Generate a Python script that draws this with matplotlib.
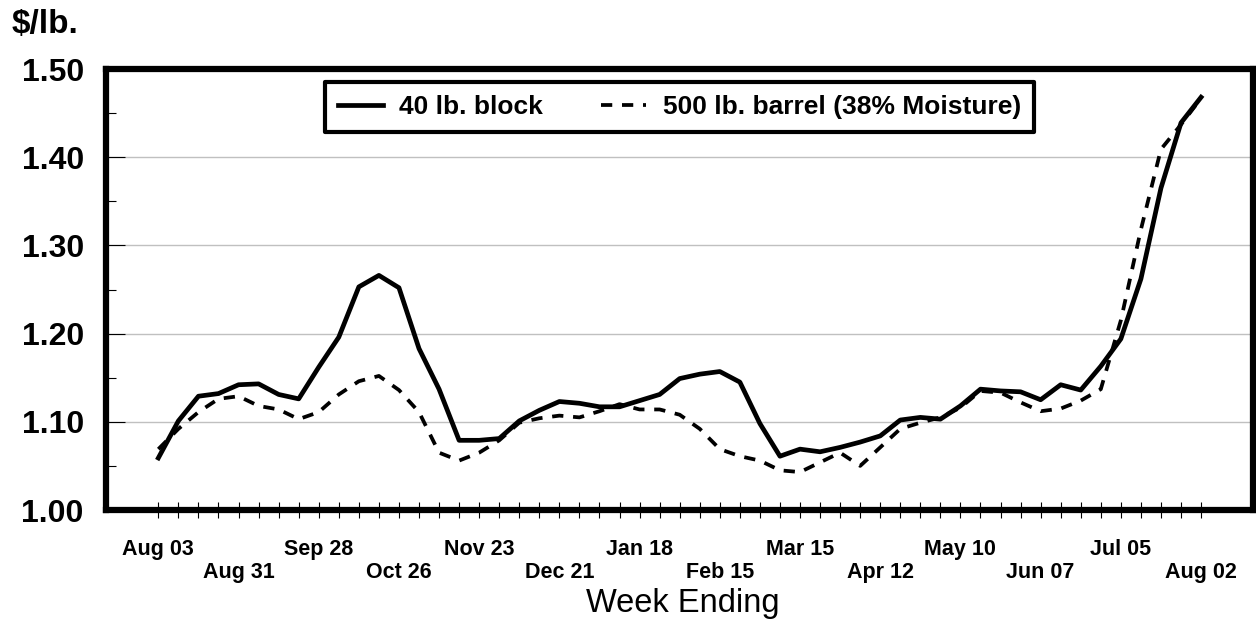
import matplotlib

matplotlib.use("Agg")
import matplotlib.pyplot as plt
import numpy as np

# weekly cheese prices, $/lb., Aug 03 .. Aug 02 (53 weeks)
block = [1.059, 1.101, 1.129, 1.132, 1.142, 1.143, 1.131, 1.126, 1.162, 1.196,
         1.253, 1.266, 1.252, 1.183, 1.137, 1.079, 1.079, 1.081, 1.101, 1.113,
         1.123, 1.121, 1.117, 1.117, 1.124, 1.131, 1.149, 1.154, 1.157, 1.145,
         1.098, 1.061, 1.069, 1.066, 1.071, 1.077, 1.084, 1.102, 1.105, 1.103,
         1.118, 1.137, 1.135, 1.134, 1.125, 1.142, 1.136, 1.163, 1.194, 1.262,
         1.365, 1.439, 1.468]
barrel = [1.069, 1.092, 1.111, 1.126, 1.129, 1.118, 1.114, 1.103, 1.111, 1.131,
          1.146, 1.152, 1.136, 1.111, 1.065, 1.056, 1.065, 1.079, 1.099, 1.104,
          1.107, 1.105, 1.112, 1.120, 1.114, 1.114, 1.108, 1.092, 1.069, 1.061,
          1.056, 1.045, 1.043, 1.054, 1.065, 1.050, 1.071, 1.092, 1.099, 1.105,
          1.116, 1.135, 1.133, 1.122, 1.112, 1.115, 1.124, 1.137, 1.215, 1.318,
          1.409, 1.437, 1.467]
week_labels = ["Aug 03", "Aug 31", "Sep 28", "Oct 26", "Nov 23", "Dec 21",
               "Jan 18", "Feb 15", "Mar 15", "Apr 12", "May 10", "Jun 07",
               "Jul 05", "Aug 02"]
series_names = ["40 lb. block", "500 lb. barrel (38% Moisture)"]

FONT = "Liberation Sans"
plt.rcParams["font.family"] = [FONT, "DejaVu Sans"]

W, H = 1256, 626
fig = plt.figure(figsize=(W / 100, H / 100), dpi=100)
ax = fig.add_axes([106 / W, 1 - 510 / H, (1253 - 106) / W, (510 - 69) / H])

weeks = np.arange(len(block))
ax.plot(weeks, block, color="black", lw=3.4, solid_joinstyle="round",
        label=series_names[0], zorder=4)
ax.plot(weeks, barrel, color="black", lw=2.7, dashes=(3, 2.6),
        label=series_names[1], zorder=3)

ax.set_xlim(-2.61, 54.59)
ax.set_ylim(1.0, 1.5)

# x axis: a tick every week, labels every 4 weeks on two staggered rows
ax.set_xticks(weeks)
xt = []
for i in weeks:
    if i % 4 == 0:
        k = i // 4
        xt.append(week_labels[k] if k % 2 == 0 else "\n" + week_labels[k])
    else:
        xt.append("")
ax.set_xticklabels(xt, fontsize=15.5, fontweight="bold", linespacing=1.12)
ax.tick_params(axis="x", direction="inout", length=11.5, width=0.8, pad=15)

# y axis
ax.set_yticks(np.arange(1.0, 1.51, 0.1))
ax.set_yticks(np.arange(1.05, 1.5, 0.1), minor=True)
ax.set_yticklabels([f"{v:.2f}" for v in np.arange(1.0, 1.51, 0.1)],
                   fontsize=23, fontweight="bold")
ax.tick_params(axis="y", which="major", direction="in", length=14,
               width=0.8, pad=16)
ax.tick_params(axis="y", which="minor", direction="in", length=7, width=0.8)
ax.yaxis.grid(True, which="major", color="#c0c0c0", lw=1.0)
ax.set_axisbelow(True)

for sp in ax.spines.values():
    sp.set_linewidth(4.5)
    sp.set_capstyle("projecting")

ax.set_xlabel("Week Ending", fontsize=23.5)
ax.xaxis.set_label_coords(0.503, -0.178)
ax.xaxis.label.set_verticalalignment("top")

fig.text(12 / W, 1 - 33 / H, "$/lb.", fontsize=24, fontweight="bold",
         va="baseline", ha="left")

leg = ax.legend(loc="upper center", bbox_to_anchor=(0.5, 1 - 13 / 441),
                borderaxespad=0, ncol=2, fancybox=False, framealpha=1,
                edgecolor="black", prop={"family": FONT, "weight": "bold",
                                          "size": 19},
                handlelength=1.7, handletextpad=0.62, columnspacing=2.2,
                borderpad=0.5)
leg.get_frame().set_linewidth(3)
leg.get_frame().set_joinstyle("round")

fig.savefig("out.png", dpi=100)
